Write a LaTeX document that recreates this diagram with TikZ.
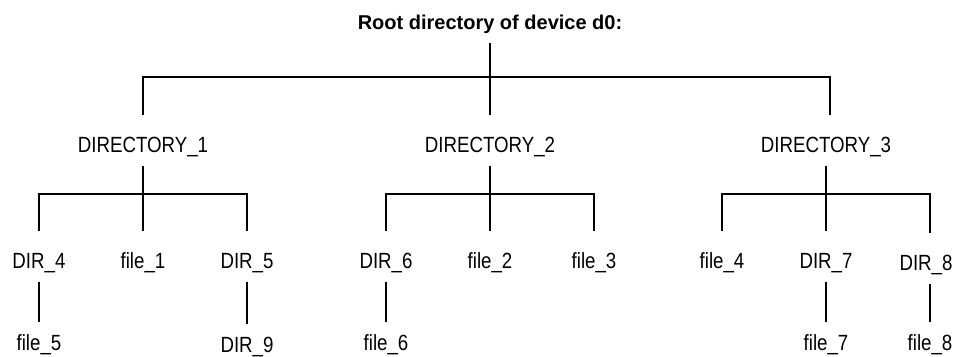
\documentclass[tikz,border=0pt]{standalone}
\usepackage{fontspec}
\setmainfont{Liberation Sans}[FakeStretch=0.85]
\newfontfamily\titlefont{Liberation Sans}
\usepackage{tikz}
\usetikzlibrary{positioning}
\tikzstyle{entry}=[anchor=base, inner sep=0pt, font=\fontsize{22}{26}\selectfont, text height=36pt, text depth=13pt]
\tikzstyle{leaf}=[entry, text height=27pt]
\tikzstyle{title}=[anchor=base, inner sep=0pt, font=\titlefont\bfseries\fontsize{20}{24}\selectfont, text depth=13pt]

\begin{document}
\begin{tikzpicture}[x=1pt, y=-1pt, line width=1.2pt]
				\useasboundingbox (0,0) rectangle (957,356);
				\node[title] (R) at (490,29) {Root directory of device d0:};
				
				\node[entry] (D1) at (143,152) {DIRECTORY\_1};
				\node[entry] (D2) at (490,152) {DIRECTORY\_2};
				\node[entry] (D3) at (826,152) {DIRECTORY\_3};
				
				\node[entry] (D4) at (39,268) {DIR\_4};
				\node[entry] (F1) at (143,268) {file\_1};
				\node[entry] (D5) at (247,268) {DIR\_5};
				\node[entry] (D6) at (386,268) {DIR\_6};
				\node[entry] (F2) at (490,268) {file\_2};
				\node[entry] (F3) at (594,268) {file\_3};
				\node[entry] (F4) at (722,268) {file\_4};
				\node[entry] (D7) at (826,268) {DIR\_7};
				\node[entry] (D8) at (926,270) {DIR\_8};
				
				\node[leaf] (F5) at (39,350) {file\_5};
				\node[leaf] (D9) at (247,352) {DIR\_9};
				\node[leaf] (F6) at (386,350) {file\_6};
				\node[leaf] (F7) at (826,350) {file\_7};
				\node[leaf] (F8) at (930,350) {file\_8};
				
				\coordinate (B0) at (490,77);
				\coordinate (T3) at (830,115);
				\coordinate (B1) at (143,194);
				\coordinate (B2) at (490,194);
				\coordinate (B3) at (826,194);
				
				% root level
				\draw (R.south)--(D2.north);
				\draw (D1.north) |- (B0) -| (T3);
				% DIRECTORY_1
				\draw (D1.south)--(F1.north);
				\draw (D4.north) |- (B1) -| (D5.north);
				% DIRECTORY_2
				\draw (D2.south)--(F2.north);
				\draw (D6.north) |- (B2) -| (F3.north);
				% DIRECTORY_3
				\draw (D3.south)--(D7.north);
				\draw (F4.north) |- (B3) -| (F8 |- D8.north);
				% leaves
				\draw (D4.south)--(F5.north);
				\draw (D5.south)--(D9.north);
				\draw (D6.south)--(F6.north);
				\draw (D7.south)--(F7.north);
				\draw (F8.north)--(F8.north |- D8.south);
			\end{tikzpicture}
\end{document}
